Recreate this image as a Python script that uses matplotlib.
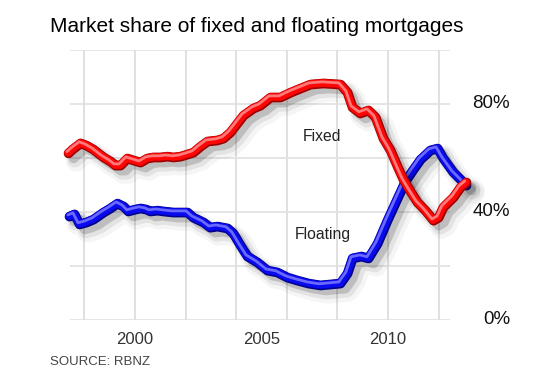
import matplotlib
matplotlib.use("Agg")
import matplotlib.pyplot as plt
import matplotlib.patheffects as pe
from matplotlib.transforms import blended_transform_factory

plt.rcParams['font.family'] = ['Liberation Sans', 'DejaVu Sans']

# ---- data ----
fixed_years = [1997.35, 1997.51, 1997.83, 1998.06, 1998.34, 1998.74, 1999.01, 1999.21, 1999.41,
               1999.68, 1999.92, 2000.20, 2000.47, 2000.71, 2000.99, 2001.26, 2001.50, 2001.78,
               2002.06, 2002.29, 2002.57, 2002.85, 2003.24, 2003.48, 2003.75, 2004.03, 2004.27,
               2004.66, 2004.94, 2005.34, 2005.73, 2006.13, 2006.52, 2006.92, 2007.43, 2008.10,
               2008.38, 2008.58, 2008.89, 2009.21, 2009.49, 2009.80, 2010.08, 2010.36, 2010.59,
               2010.87, 2011.15, 2011.46, 2011.78, 2011.98, 2012.17, 2012.57, 2012.85, 2013.08]
fixed_share = [61.9, 63.3, 65.6, 64.8, 63.3, 60.4, 58.9, 57.4, 57.4,
               60.0, 59.3, 58.5, 60.0, 60.4, 60.4, 60.7, 60.4, 60.7,
               61.5, 62.2, 64.4, 66.3, 66.7, 67.4, 69.6, 73.0, 75.9,
               78.5, 79.6, 82.6, 82.6, 84.4, 85.9, 87.4, 87.8, 87.4,
               84.4, 78.9, 76.7, 77.8, 75.2, 67.4, 63.0, 57.0, 52.2,
               47.8, 43.7, 40.7, 37.0, 38.1, 41.9, 45.6, 49.3, 51.1]

floating_years = [1997.39, 1997.59, 1997.79, 1998.06, 1998.34, 1998.74, 1999.01, 1999.29, 1999.53,
                  1999.72, 2000.00, 2000.20, 2000.43, 2000.59, 2000.87, 2001.11, 2001.50, 2001.78,
                  2002.06, 2002.29, 2002.69, 2002.96, 2003.24, 2003.64, 2003.87, 2004.15, 2004.43,
                  2004.82, 2005.22, 2005.61, 2006.01, 2006.40, 2006.84, 2007.31, 2008.10, 2008.38,
                  2008.58, 2008.93, 2009.21, 2009.57, 2009.96, 2010.36, 2010.67, 2010.99, 2011.27,
                  2011.66, 2011.94, 2012.17, 2012.57, 2012.85, 2013.08]
floating_share = [38.5, 39.3, 35.6, 36.3, 37.4, 40.0, 41.5, 43.3, 42.2,
                  40.4, 41.1, 41.5, 41.1, 40.4, 40.7, 40.4, 40.0, 40.0,
                  40.0, 38.1, 36.3, 34.4, 34.8, 34.1, 32.2, 27.8, 23.7,
                  21.5, 18.5, 17.8, 15.9, 14.8, 13.7, 13.0, 13.7, 17.4,
                  23.0, 23.7, 23.0, 28.5, 37.0, 45.2, 51.5, 55.9, 59.6,
                  63.0, 63.7, 60.0, 54.8, 52.2, 50.0]

x_tick_years = [2000, 2005, 2010]
x_tick_labels = ['2000', '2005', '2010']
y_ticks = [0, 40, 80]
y_tick_labels = ['0%', '40%', '80%']
grid_years = [1998, 2000, 2002, 2004, 2006, 2008, 2010, 2012]
grid_pcts = [0, 20, 40, 60, 80, 100]

title = 'Market share of fixed and floating mortgages'
source = 'SOURCE: RBNZ'

# ---- figure ----
W, H = 540, 368
fig = plt.figure(figsize=(W / 100, H / 100), dpi=100)
fig.patch.set_facecolor('white')
ax = fig.add_axes([70 / W, 48 / H, 400 / W, 270 / H])
x_left, x_right, x_grid_end = 1997.43, 2013.24, 2012.43
ax.set_xlim(x_left, x_right)
ax.set_ylim(0, 100)
for s in ax.spines.values():
    s.set_visible(False)
ax.set_yticks([])
ax.set_xticks(x_tick_years)
ax.set_xticklabels(x_tick_labels, fontsize=12, color='#333333')
ax.tick_params(axis='x', length=0, pad=9)

grid_c = '#e0e0e0'
ax.hlines(grid_pcts, x_left, x_grid_end, color=grid_c, lw=1.2, zorder=1)
ax.vlines(grid_years, 0, 100, color=grid_c, lw=1.4, zorder=1)


def effects(dark, light):
    return [
        pe.SimpleLineShadow(offset=(6, -6), shadow_color='black', alpha=0.04, linewidth=15),
        pe.SimpleLineShadow(offset=(5, -5), shadow_color='black', alpha=0.07, linewidth=11),
        pe.SimpleLineShadow(offset=(4, -4), shadow_color='black', alpha=0.16, linewidth=7),
        pe.Stroke(linewidth=7, foreground=dark, offset=(0.4, -0.4)),
        pe.Normal(),
        pe.Stroke(linewidth=2, foreground=light, offset=(-0.8, 0.8)),
    ]


ax.plot(floating_years, floating_share, color='#0a0aee', lw=5.5, solid_capstyle='round',
        solid_joinstyle='round', zorder=3, clip_on=False,
        path_effects=effects('#00008a', '#6a6aff'))
ax.plot(fixed_years, fixed_share, color='#ff0606', lw=5.5, solid_capstyle='round',
        solid_joinstyle='round', zorder=4, clip_on=False,
        path_effects=effects('#9a0000', '#ff7a7a'))

ax.text(2007.39, 68.1, 'Fixed', fontsize=11.3, color='#222222', ha='center', va='center', zorder=5)
ax.text(2007.43, 31.5, 'Floating', fontsize=11.3, color='#222222', ha='center', va='center', zorder=5)

tr = blended_transform_factory(fig.transFigure, ax.transData)
for v, lab in zip(y_ticks, y_tick_labels):
    ax.text(510 / W, v, lab, transform=tr, ha='right', va='center', fontsize=13.5, color='#111111')

fig.text(50 / W, (H - 32) / H, title, fontsize=15, color='black', ha='left', va='baseline')
fig.text(50 / W, (H - 365) / H, source, fontsize=9.5, color='#444444', ha='left', va='baseline')

fig.savefig('out.png', dpi=100, facecolor='white')
